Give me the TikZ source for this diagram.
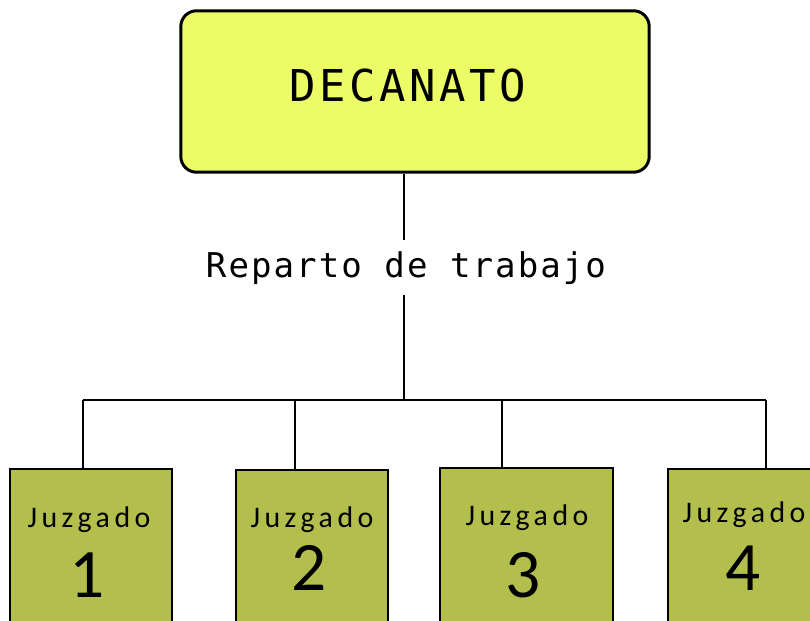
\documentclass[tikz,border=0pt]{standalone}
\usepackage{fontspec}
\usetikzlibrary{positioning}
\newfontfamily\decfont[LetterSpace=8]{DejaVu Sans Mono}
\newfontfamily\repfont[LetterSpace=6]{DejaVu Sans Mono}
\newfontfamily\juzfont[LetterSpace=15]{Carlito}
\newfontfamily\numfont{Carlito}
\definecolor{decfill}{RGB}{235,252,102}
\definecolor{juzfill}{RGB}{179,191,76}
\tikzset{decbox/.style={draw, rounded corners=9pt, line width=1.7pt, fill=decfill, minimum width=9.37cm, minimum height=3.23cm}}
\tikzset{juzbox/.style={draw, line width=1.5pt, fill=juzfill, minimum height=3.82cm}}
\tikzset{conn/.style={draw, line width=1.3pt}}
\tikzset{juzlabel/.style={anchor=base, inner sep=0pt, font=\juzfont\fontsize{17}{20}\selectfont}}
\tikzset{numlabel/.style={anchor=base, inner sep=0pt, font=\numfont\fontsize{39.5}{44}\selectfont}}

\begin{document}
\begin{tikzpicture}[x=0.02cm, y=-0.02cm]
		\clip (0,0) rectangle (810,621);
		
		\node[decbox] (dec) at (415,91.5){};
		\node[anchor=base, inner sep=0pt, font=\decfont\fontsize{25}{28}\selectfont] (dectext) at (408,102){DECANATO};
		
		\node[anchor=base, inner sep=6pt, font=\repfont\fontsize{19.4}{22}\selectfont] (rep) at (406,277){Reparto de trabajo};
		\coordinate (bus) at (404,400);
		
		% juzgados
		\node[juzbox, minimum width=3.24cm] (J1) at (91,564.5){};
		\node[juzbox, minimum width=3.04cm] (J2) at (312,565.5){};
		\node[juzbox, minimum width=3.46cm] (J3) at (526.5,563.5){};
		\node[juzbox, minimum width=3.24cm] (J4) at (749,564.5){};
		
		\node[juzlabel] (J1t) at (89,527){Juzgado};
		\node[juzlabel] (J2t) at (312,527){Juzgado};
		\node[juzlabel] (J3t) at (527,525){Juzgado};
		\node[juzlabel] (J4t) at (744,522){Juzgado};
		
		\node[numlabel] (J1n) at (87,597){1};
		\node[numlabel] (J2n) at (309,590){2};
		\node[numlabel] (J3n) at (523,597){3};
		\node[numlabel] (J4n) at (743,590){4};
		
		% conexiones
		\coordinate (b1) at (83,400);
		\coordinate (b2) at (295,400);
		\coordinate (b3) at (502,400);
		\coordinate (b4) at (766,400);
		
		\draw[conn] (dec.south -| bus) -- (rep.north -| bus);
		\draw[conn] (rep.south -| bus) -- (bus);
		\draw[conn] (b1) -- (b4);
		\draw[conn] (b1) -- (b1 |- J1.north);
		\draw[conn] (b2) -- (b2 |- J2.north);
		\draw[conn] (b3) -- (b3 |- J3.north);
		\draw[conn] (b4) -- (b4 |- J4.north);
	\end{tikzpicture}
\end{document}
